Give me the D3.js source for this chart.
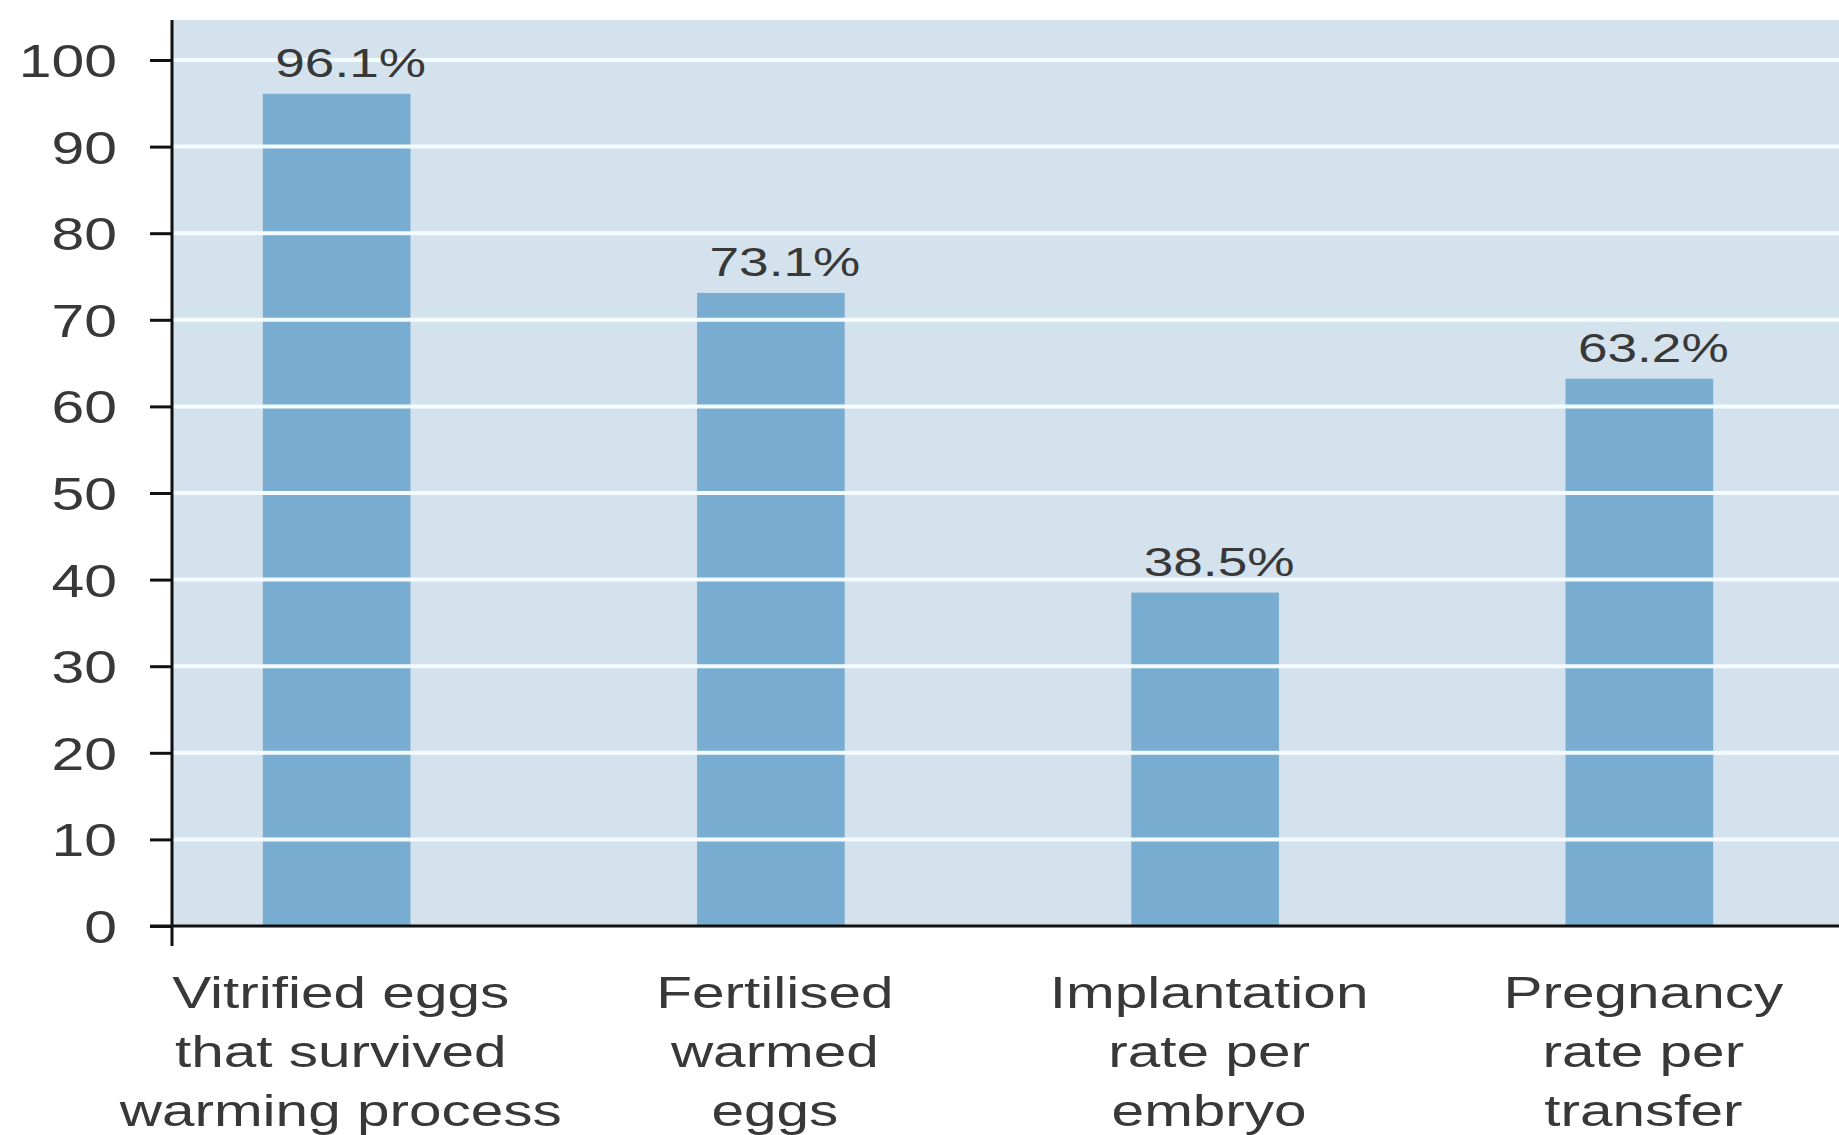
<!DOCTYPE html>
<html>
<head>
<meta charset="utf-8">
<script src="https://cdn.jsdelivr.net/npm/d3@7"></script>
<style>
  body { margin: 0; background: #fff; }
  text { font-family: "Liberation Sans", Arial, sans-serif; fill: #383838; }
</style>
</head>
<body>
<div id="chart"></div>
<script>
const categories = ["vitrified", "fertilised", "implantation", "pregnancy"];
const labelLines = [
  ["Vitrified eggs", "that survived", "warming process"],
  ["Fertilised", "warmed", "eggs"],
  ["Implantation", "rate per", "embryo"],
  ["Pregnancy", "rate per", "transfer"]
];
const values = [96.1, 73.1, 38.5, 63.2];
const valueLabels = ["96.1%", "73.1%", "38.5%", "63.2%"];
const yTicks = [0, 10, 20, 30, 40, 50, 60, 70, 80, 90, 100];

const width = 1839, height = 1135;
const stretch = 1.3; // text in the original is drawn wide

const svg = d3.select("#chart")
  .append("svg")
  .attr("width", width)
  .attr("height", height);

const x = d3.scaleBand()
  .domain(categories)
  .range([176, 1800])
  .paddingInner(0.66)
  .paddingOuter(0.2);

const y = d3.scaleLinear()
  .domain([0, 100])
  .range([926, 60]);

// plot background
svg.append("rect")
  .attr("x", 172)
  .attr("y", 20)
  .attr("width", width - 172)
  .attr("height", y(0) - 20)
  .attr("fill", "#d3e2ed");

// bars
svg.append("g")
  .selectAll("rect")
  .data(values)
  .join("rect")
  .attr("x", (d, i) => x(categories[i]))
  .attr("y", d => y(d))
  .attr("width", x.bandwidth())
  .attr("height", d => y(0) - y(d))
  .attr("fill", "#78acd0");

// gridlines over the bars
svg.append("g")
  .selectAll("line")
  .data(yTicks.filter(t => t > 0))
  .join("line")
  .attr("x1", 172)
  .attr("x2", width)
  .attr("y1", d => y(d))
  .attr("y2", d => y(d))
  .attr("stroke", "#f4fcff")
  .attr("stroke-width", 4);

// y axis
const yAxis = svg.append("g")
  .attr("transform", "translate(172,0)")
  .call(d3.axisLeft(y).tickValues(yTicks).tickSize(22).tickPadding(0));

yAxis.select(".domain").remove();
yAxis.selectAll(".tick line")
  .attr("stroke", "#111")
  .attr("stroke-width", 3);
yAxis.selectAll(".tick text")
  .attr("x", 0)
  .attr("dy", "0.36em")
  .attr("text-anchor", "end")
  .attr("transform", `translate(-55,0) scale(1.28,1)`)
  .style("font-size", "46px")
  .style("font-family", "'Liberation Sans', Arial, sans-serif")
  .attr("fill", "#383838");

// axis lines
svg.append("line")
  .attr("x1", 172).attr("x2", 172)
  .attr("y1", 20).attr("y2", y(0) + 20)
  .attr("stroke", "#111").attr("stroke-width", 3);

svg.append("line")
  .attr("x1", 150).attr("x2", width)
  .attr("y1", y(0)).attr("y2", y(0))
  .attr("stroke", "#111").attr("stroke-width", 3);

// value labels
svg.append("g")
  .selectAll("text")
  .data(values)
  .join("text")
  .attr("text-anchor", "middle")
  .attr("transform", (d, i) =>
    `translate(${x(categories[i]) + x.bandwidth() / 2 + 14},${y(d) - 17}) scale(1.33,1)`)
  .style("font-size", "40px")
  .attr("fill", "#444")
  .text((d, i) => valueLabels[i]);

// category labels
const cat = svg.append("g")
  .selectAll("g")
  .data(categories)
  .join("g")
  .attr("transform", d => `translate(${x(d) + x.bandwidth() / 2 + 4},0)`);

cat.selectAll("text")
  .data((d, i) => labelLines[i])
  .join("text")
  .attr("text-anchor", "middle")
  .attr("transform", (d, j) => `translate(0,${1008 + j * 59}) scale(${stretch},1)`)
  .style("font-size", "45px")
  .text(d => d);
</script>
</body>
</html>
